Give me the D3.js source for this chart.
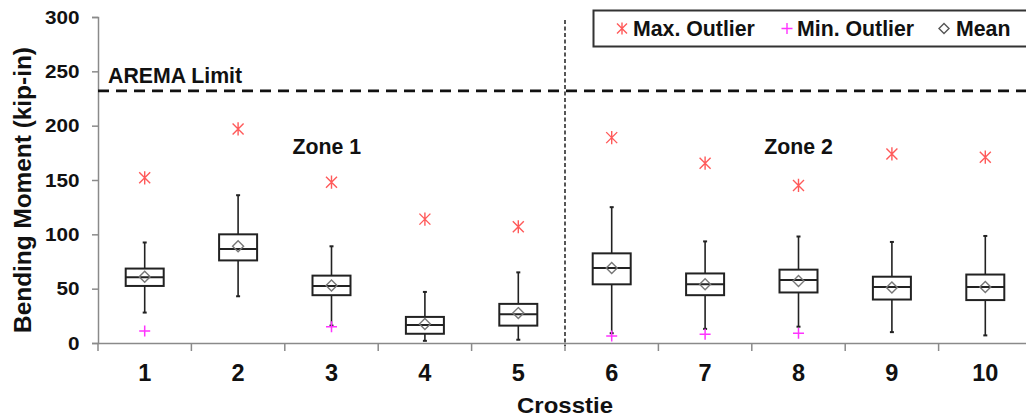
<!DOCTYPE html>
<html>
<head>
<meta charset="utf-8">
<script src="https://cdn.jsdelivr.net/npm/d3@7"></script>
<style>
  html, body { margin: 0; padding: 0; background: #fff; }
  svg { display: block; font-family: "Liberation Sans", Arial, sans-serif; font-weight: bold; }
</style>
</head>
<body>
<svg id="chart" width="1026" height="419"></svg>
<script>
// Crosstie bending moment distributions (kip-in)
const crossties   = ["1", "2", "3", "4", "5", "6", "7", "8", "9", "10"];
const whiskerLow  = [28, 43, 16, 2, 3, 9, 13, 15, 10, 7];
const quartile1   = [52.5, 76, 44, 8.5, 16, 54, 44, 46.5, 40, 39.5];
const medians     = [60.5, 86.5, 52.5, 16.5, 26.5, 69, 54, 58, 51.5, 51.5];
const quartile3   = [68.5, 100, 62, 24, 36, 82.5, 64, 67.5, 61, 63];
const whiskerHigh = [92.5, 136, 89, 47, 65, 125, 93.5, 98, 93, 98.5];
const means       = [61, 89, 53, 17.5, 27.5, 69, 54, 57, 51, 51.5];
const maxOutliers = [152, 197, 148, 114, 107, 189, 165.5, 145, 174, 171];
const minOutliers = [11, null, 15, null, null, 6.5, 8, 9, null, null];
const yTicks      = [0, 50, 100, 150, 200, 250, 300];
const aremaLimit  = 232;
const zoneDivider = 5.5;   // boundary between crosstie 5 and 6
const zones       = [{ name: "Zone 1", at: 2.95 }, { name: "Zone 2", at: 8.0 }];

const rows = crossties.map((c, i) => ({
  c, lo: whiskerLow[i], q1: quartile1[i], med: medians[i], q3: quartile3[i],
  hi: whiskerHigh[i], mean: means[i], max: maxOutliers[i], min: minOutliers[i]
}));

const svg = d3.select("#chart");
const plotLeft = 98, plotRight = 1032, plotTop = 17, plotBottom = 343;

const x = d3.scaleBand().domain(crossties).range([plotLeft, plotRight]).padding(0);
const y = d3.scaleLinear().domain([0, 300]).range([plotBottom, plotTop]);
const xc = c => x(c) + x.bandwidth() / 2;
// continuous position in crosstie units (1..10)
const xPos = d3.scaleLinear().domain([0.5, 10.5]).range([plotLeft, plotRight]);

const axisColor = "#8a8a8a";

// Y axis
const yAxis = svg.append("g")
  .attr("transform", `translate(${plotLeft},0)`)
  .call(d3.axisLeft(y).tickValues(yTicks).tickSize(6).tickPadding(11));
yAxis.select(".domain").attr("stroke", axisColor).attr("stroke-width", 1.5);
yAxis.selectAll(".tick line").attr("stroke", axisColor).attr("stroke-width", 1.5);
yAxis.selectAll(".tick text")
  .attr("font-size", 19).attr("font-weight", "bold").attr("font-family", "Liberation Sans, Arial, sans-serif")
  .attr("fill", "#111")
  .attr("transform", "scale(1.09,1)");

// X axis: ticks sit on the category boundaries
const xAxisG = svg.append("g").attr("transform", `translate(0,${plotBottom})`);
xAxisG.call(d3.axisBottom(x).tickSize(0).tickPadding(21));
xAxisG.select(".domain").attr("stroke", axisColor).attr("stroke-width", 1.5);
xAxisG.selectAll(".tick text")
  .attr("font-size", 23.5).attr("font-weight", "bold").attr("font-family", "Liberation Sans, Arial, sans-serif")
  .attr("fill", "#111");
const bounds = crossties.map(c => x(c)).concat([plotRight]);
xAxisG.selectAll(".bound").data(bounds).join("line")
  .attr("class", "bound")
  .attr("x1", d => d).attr("x2", d => d)
  .attr("y1", 0).attr("y2", 8)
  .attr("stroke", axisColor).attr("stroke-width", 1.5);

// Axis titles
svg.append("text")
  .attr("transform", `translate(565,413) scale(1.09,1)`)
  .attr("text-anchor", "middle")
  .attr("font-size", 22).attr("fill", "#111")
  .text("Crosstie");
svg.append("text")
  .attr("transform", `translate(31,190) rotate(-90)`)
  .attr("text-anchor", "middle")
  .attr("font-size", 24.4).attr("fill", "#111")
  .text("Bending Moment (kip-in)");

// AREMA limit
svg.append("line")
  .attr("x1", plotLeft).attr("x2", 1026)
  .attr("y1", y(aremaLimit)).attr("y2", y(aremaLimit))
  .attr("stroke", "#111").attr("stroke-width", 2.6)
  .attr("stroke-dasharray", "11,7");
svg.append("text")
  .attr("x", 108).attr("y", y(aremaLimit) - 7.5)
  .attr("font-size", 21.3).attr("fill", "#111")
  .text("AREMA Limit");

// Zone divider
svg.append("line")
  .attr("x1", xPos(zoneDivider)).attr("x2", xPos(zoneDivider))
  .attr("y1", 20).attr("y2", plotBottom + 3)
  .attr("stroke", "#444").attr("stroke-width", 1.8)
  .attr("stroke-dasharray", "4,2.5");

// Zone labels
svg.selectAll(".zone").data(zones).join("text")
  .attr("class", "zone")
  .attr("x", d => xPos(d.at)).attr("y", 154)
  .attr("text-anchor", "middle")
  .attr("font-size", 21.3).attr("fill", "#111")
  .text(d => d.name);

// Box plots
const boxW = 38, capW = 4;
const g = svg.append("g");
const box = g.selectAll(".box").data(rows).join("g").attr("class", "box");

box.append("line") // whisker
  .attr("x1", d => xc(d.c)).attr("x2", d => xc(d.c))
  .attr("y1", d => y(d.lo)).attr("y2", d => y(d.hi))
  .attr("stroke", "#222").attr("stroke-width", 1.6);
box.append("line")
  .attr("x1", d => xc(d.c) - capW / 2).attr("x2", d => xc(d.c) + capW / 2)
  .attr("y1", d => y(d.hi)).attr("y2", d => y(d.hi))
  .attr("stroke", "#222").attr("stroke-width", 2);
box.append("line")
  .attr("x1", d => xc(d.c) - capW / 2).attr("x2", d => xc(d.c) + capW / 2)
  .attr("y1", d => y(d.lo)).attr("y2", d => y(d.lo))
  .attr("stroke", "#222").attr("stroke-width", 2);
box.append("rect")
  .attr("x", d => xc(d.c) - boxW / 2).attr("width", boxW)
  .attr("y", d => y(d.q3)).attr("height", d => y(d.q1) - y(d.q3))
  .attr("fill", "#fff").attr("stroke", "#222").attr("stroke-width", 2);
box.append("line")
  .attr("x1", d => xc(d.c) - boxW / 2).attr("x2", d => xc(d.c) + boxW / 2)
  .attr("y1", d => y(d.med)).attr("y2", d => y(d.med))
  .attr("stroke", "#222").attr("stroke-width", 2);

// Marker shapes
const asterisk = r => `M${-r},${-r}L${r},${r}M${-r},${r}L${r},${-r}M0,${-r * 1.2}L0,${r * 1.2}`;
const plus = r => `M${-r},0L${r},0M0,${-r}L0,${r}`;
const diamond = r => `M0,${-r}L${r},0L0,${r}L${-r},0Z`;

box.append("path")
  .attr("transform", d => `translate(${xc(d.c)},${y(d.mean)})`)
  .attr("d", diamond(5.5))
  .attr("fill", "none").attr("stroke", "#777").attr("stroke-width", 1.4);

g.selectAll(".maxo").data(rows).join("path")
  .attr("class", "maxo")
  .attr("transform", d => `translate(${xc(d.c)},${y(d.max)})`)
  .attr("d", asterisk(5.5))
  .attr("fill", "none").attr("stroke", "#ff5a5a").attr("stroke-width", 1.4);

g.selectAll(".mino").data(rows.filter(d => d.min != null)).join("path")
  .attr("class", "mino")
  .attr("transform", d => `translate(${xc(d.c)},${y(d.min)})`)
  .attr("d", plus(5.5))
  .attr("fill", "none").attr("stroke", "#ff33ff").attr("stroke-width", 1.5);

// Legend
const legend = svg.append("g");
legend.append("rect")
  .attr("x", 593.5).attr("y", 10.5).attr("width", 440).attr("height", 36)
  .attr("fill", "#fff").attr("stroke", "#333").attr("stroke-width", 2);
const legendItems = [
  { label: "Max. Outlier", mx: 622, tx: 633, d: asterisk(5), stroke: "#ff5a5a" },
  { label: "Min. Outlier", mx: 787, tx: 797, d: plus(5.5), stroke: "#ff33ff" },
  { label: "Mean", mx: 944, tx: 956, d: diamond(5), stroke: "#555" }
];
const li = legend.selectAll(".item").data(legendItems).join("g").attr("class", "item");
li.append("path")
  .attr("transform", d => `translate(${d.mx},28.5)`)
  .attr("d", d => d.d)
  .attr("fill", "none").attr("stroke", d => d.stroke).attr("stroke-width", 1.4);
li.append("text")
  .attr("x", d => d.tx).attr("y", 36)
  .attr("font-size", 21.3).attr("fill", "#111")
  .text(d => d.label);
</script>
</body>
</html>
